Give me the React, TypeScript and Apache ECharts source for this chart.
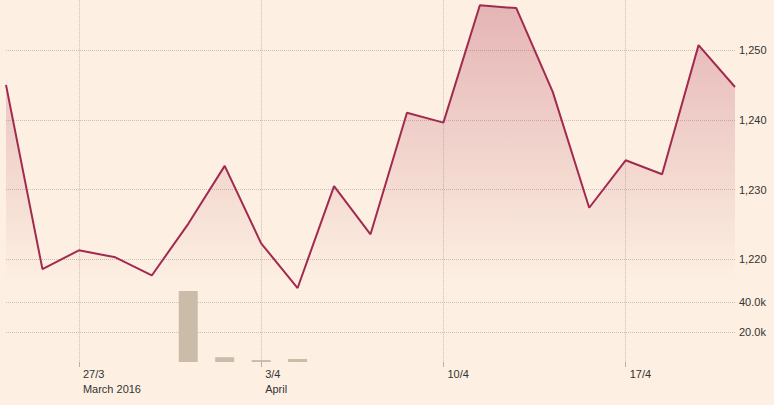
import React, { useEffect, useRef } from "react";
import * as echarts from "echarts";

const categories = [
  "24/3", "25/3", "28/3", "29/3", "30/3", "31/3", "1/4", "4/4", "5/4", "6/4", "7/4",
  "8/4", "11/4", "12/4", "13/4", "14/4", "15/4", "18/4", "19/4", "20/4", "21/4",
];
const priceValues = [
  1245.0, 1218.6, 1221.3, 1220.3, 1217.7, 1225.1, 1233.4, 1222.3, 1215.9, 1230.5, 1223.6,
  1241.0, 1239.6, 1256.4, 1256.0, 1244.0, 1227.4, 1234.2, 1232.2, 1250.7, 1244.7,
];
const volumeValues: (number | null)[] = [
  null, null, null, null, null, 47300, 3200, 1300, 2000, null, null,
  null, null, null, null, null, null, null, null, null, null,
];
const xTickIndices = [2, 7, 12, 17];
const xTickLabels = ["27/3\nMarch 2016", "3/4\nApril", "10/4", "17/4"];
const priceTicks = [1220, 1230, 1240, 1250];
const volumeTicks = [20000, 40000];

const BG = "#fdf0e2";
const GRID = "#cbc0b5";
const LINE = "#a12a4f";
const BAR = "#cbbcaa";
const TEXT = "#333333";
const FONT = 'Arial, "Liberation Sans", sans-serif';
const SHIFT = 20;

export default function App() {
  const ref = useRef<HTMLDivElement>(null);
  useEffect(() => {
    if (!ref.current) return;
    const chart = echarts.init(ref.current, null, { renderer: "svg" });
    const pMin = 1205, pMax = 1260, pStep = 5;
    const splitColors: string[] = [];
    for (let v = pMin; v <= pMax + 0.001; v += pStep) {
      splitColors.push(priceTicks.includes(v) ? GRID : "rgba(0,0,0,0)");
    }
    const isTick = (i: number) => xTickIndices.includes(i);
    chart.setOption({
      animation: false,
      backgroundColor: BG,
      grid: [
        { left: 6, right: 39, top: SHIFT - 19.8, bottom: 40.9 },
        { left: 6, right: 39, top: SHIFT + 272, bottom: 43 },
      ],
      xAxis: [
        {
          type: "category",
          gridIndex: 0,
          data: categories,
          boundaryGap: false,
          axisLine: { show: false },
          axisTick: { show: false },
          axisLabel: { show: false },
          splitLine: {
            show: true,
            interval: (i: number) => isTick(i),
            lineStyle: { color: GRID, type: "dotted", width: 1 },
          },
        },
        {
          type: "category",
          gridIndex: 1,
          data: categories,
          boundaryGap: false,
          axisLine: { show: false },
          axisTick: {
            show: true,
            length: 5,
            interval: (i: number) => isTick(i),
            lineStyle: { color: "#b8aea4", width: 1 },
          },
          axisLabel: {
            show: true,
            interval: (i: number) => isTick(i),
            formatter: (_v: string, i: number) => {
              const k = xTickIndices.indexOf(i);
              return k >= 0 ? xTickLabels[k] : "";
            },
            align: "left",
            padding: [0, 0, 0, 4],
            margin: 4,
            color: TEXT,
            fontSize: 11,
            lineHeight: 15,
            fontFamily: FONT,
          },
          splitLine: { show: false },
        },
      ],
      yAxis: [
        {
          type: "value",
          gridIndex: 0,
          position: "right",
          min: pMin,
          max: pMax,
          interval: pStep,
          axisLine: { show: false },
          axisTick: { show: false },
          axisLabel: {
            margin: 4,
            color: TEXT,
            fontSize: 11,
            fontFamily: FONT,
            formatter: (v: number) => (priceTicks.includes(v) ? v.toLocaleString("en-US") : ""),
          },
          splitLine: {
            show: true,
            lineStyle: { color: splitColors, type: "dotted", width: 1 },
          },
        },
        {
          type: "value",
          gridIndex: 1,
          position: "right",
          min: 0,
          max: 60000,
          interval: 20000,
          axisLine: { show: false },
          axisTick: { show: false },
          axisLabel: {
            margin: 4,
            color: TEXT,
            fontSize: 11,
            fontFamily: FONT,
            formatter: (v: number) => (volumeTicks.includes(v) ? (v / 1000).toFixed(1) + "k" : ""),
          },
          splitLine: {
            show: true,
            showMinLine: false,
            showMaxLine: false,
            lineStyle: { color: GRID, type: "dotted", width: 1 },
          },
        },
      ],
      series: [
        {
          type: "bar",
          xAxisIndex: 1,
          yAxisIndex: 1,
          data: volumeValues,
          barWidth: 19,
          itemStyle: { color: BAR },
        },
        {
          type: "line",
          xAxisIndex: 0,
          yAxisIndex: 0,
          data: priceValues,
          symbol: "none",
          lineStyle: { color: LINE, width: 2 },
          areaStyle: {
            color: new echarts.graphic.LinearGradient(0, 0, 0, 1, [
              { offset: 0, color: "rgba(170,40,75,0.42)" },
              { offset: 0.78, color: "rgba(170,40,75,0)" },
              { offset: 1, color: "rgba(170,40,75,0)" },
            ]),
          },
          z: 3,
        },
      ],
    });
    return () => chart.dispose();
  }, []);
  return (
    <div style={{ position: "fixed", left: 0, top: 0, width: 774, height: 405, overflow: "hidden", background: BG }}>
      <div
        ref={ref}
        style={{ position: "absolute", left: 0, top: -SHIFT, width: 774, height: 405 + SHIFT }}
      />
    </div>
  );
}
